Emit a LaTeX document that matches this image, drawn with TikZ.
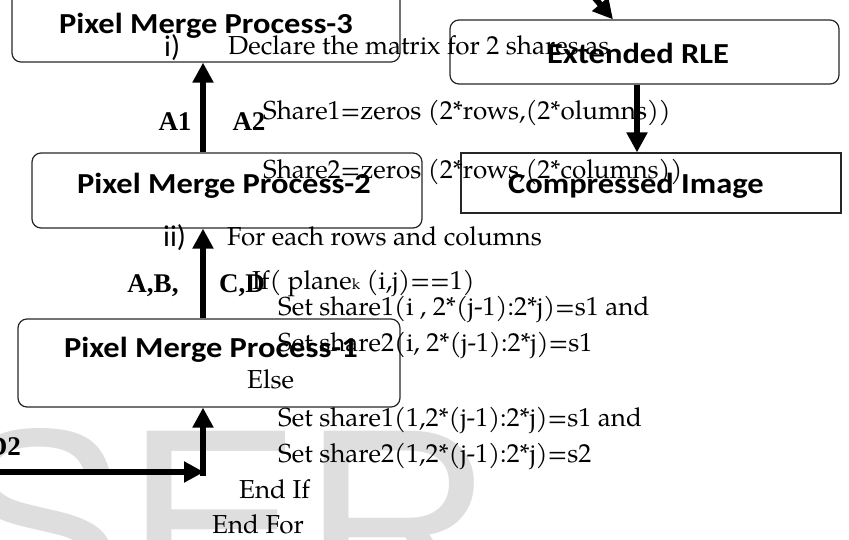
\documentclass[tikz,border=0pt]{standalone}
\usepackage{fontspec}
\usepackage{graphicx}
\usetikzlibrary{arrows.meta}
\setmainfont{Liberation Serif}
\newfontfamily\boxfont{Carlito}
\newfontfamily\codefont{TeX Gyre Pagella}
\newfontfamily\wmfont{Liberation Sans}
\newcommand\widen[1]{\scalebox{1.12}[1]{#1}}
\tikzset{
  box/.style={draw=black!85, line width=1.2pt, rounded corners=9pt, inner sep=0pt},
  sqbox/.style={draw=black!85, line width=1.2pt, inner sep=0pt},
  boxlabel/.style={font=\boxfont\bfseries\fontsize{29}{30}\selectfont, anchor=base, inner sep=0pt},
  arr/.style={line width=6pt, -{Triangle[width=20pt,length=20pt]}},
  code/.style={font=\codefont\fontsize{26}{30}\selectfont, anchor=base west, inner sep=0pt},
  enum/.style={font=\boxfont\fontsize{30}{30}\selectfont, anchor=base west, inner sep=0pt},
  lbl/.style={font=\bfseries\fontsize{27}{30}\selectfont, inner sep=0pt},
}
\begin{document}
\begin{tikzpicture}[x=1pt, y=-1pt]
\useasboundingbox (0,0) rectangle (849,539);

% background watermark
\node[anchor=base west, inner sep=0pt, font=\wmfont\fontsize{265}{265}\selectfont, text=black!13] (wm) at (-51,613) {SER};

% process boxes
\node[box, minimum width=388pt, minimum height=82pt] (pm3) at (206,21) {};
\node[box, minimum width=390pt, minimum height=75pt] (pm2) at (227,190.5) {};
\node[box, minimum width=382pt, minimum height=88pt] (pm1) at (209,363) {};
\node[box, minimum width=389pt, minimum height=64pt] (erle) at (644.5,52) {};
\node[sqbox, minimum width=380pt, minimum height=60pt] (ci) at (651,183) {};

\node[boxlabel] (pm3t) at (206,33) {\widen{Pixel Merge Process-3}};
\node[boxlabel] (pm2t) at (224,193) {\widen{Pixel Merge Process-2}};
\node[boxlabel] (pm1t) at (211,357) {\widen{Pixel Merge Process-1}};
\node[boxlabel] (erlet) at (638,63) {\widen{Extended RLE}};
\node[boxlabel] (cit) at (636,193) {\widen{Compressed Image}};

% connectors
\coordinate (ax) at (203,0);
\coordinate (rx) at (613,0);
\coordinate (cx) at (637,0);
\coordinate (feed) at (-5,472);
\coordinate (bend) at (204,472);
\coordinate (rise) at (203,476);
\coordinate (rtop) at (588,-10);

\draw[arr] (pm2.north -| ax) -- (pm3.south -| ax);
\draw[arr] (pm1.north -| ax) -- (pm2.south -| ax);
\draw[arr] (feed) -- (bend);
\draw[arr] (rise) -- (pm1.south -| ax);
\draw[arr] (rtop) -- (erle.north -| rx);
\draw[arr] (erle.south -| cx) -- (ci.north -| cx);

% edge labels
\node[lbl] (a1) at (175,122) {A1};
\node[lbl] (a2) at (249,122) {A2};
\node[lbl] (ab) at (153,286) {A,B,};
\node[lbl] (cd) at (242,286) {C,D};
\node[lbl, anchor=base east] (d2) at (21,455) {D2};

% pseudocode
\node[enum] (e1) at (164,56) {i)};
\node[code] (c1) at (228,54) {Declare the matrix for 2 shares as};
\node[code] (c2) at (263,119) {Share1=zeros (2*rows,(2*olumns))};
\node[code] (c3) at (263,178) {Share2=zeros (2*rows,(2*columns))};
\node[enum] (e2) at (163,246) {ii)};
\node[code] (c4) at (227,245) {For each rows and columns};
\node[code] (c5) at (252,289) {If( plane{\fontsize{15}{15}\selectfont k} (i,j)==1)};
\node[code] (c6) at (278,315) {Set share1(i , 2*(j-1):2*j)=s1 and};
\node[code] (c7) at (278,351) {Set share2(i, 2*(j-1):2*j)=s1};
\node[code] (c8) at (247,388) {Else};
\node[code] (c9) at (278,426) {Set share1(1,2*(j-1):2*j)=s1 and};
\node[code] (c10) at (278,462) {Set share2(1,2*(j-1):2*j)=s2};
\node[code] (c11) at (239,498) {End If};
\node[code] (c12) at (212,533) {End For};
\end{tikzpicture}
\end{document}
